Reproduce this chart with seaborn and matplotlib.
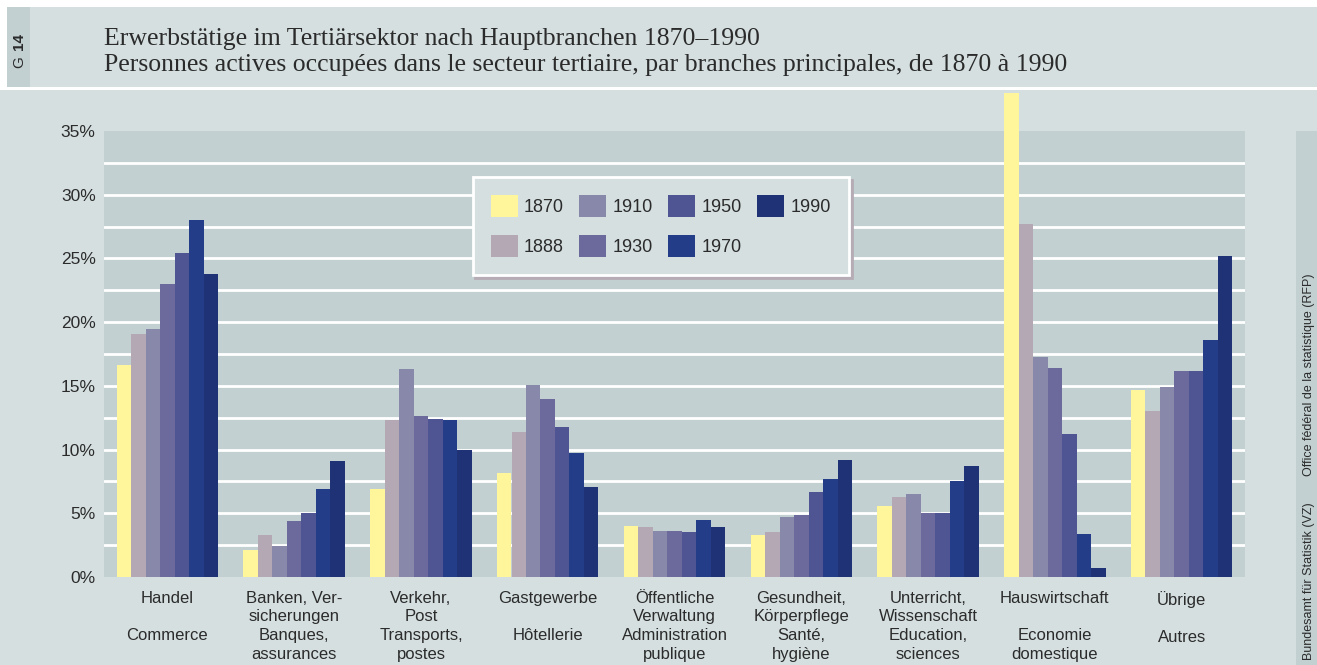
import numpy as np
import pandas as pd
import matplotlib
matplotlib.use("Agg")
import matplotlib.pyplot as plt
from matplotlib.patches import Rectangle
import seaborn as sns

# --- data (share of tertiary employment, %) ---
branches_de = ["Handel", "Banken, Ver-\nsicherungen", "Verkehr,\nPost", "Gastgewerbe",
               "Öffentliche\nVerwaltung", "Gesundheit,\nKörperpflege",
               "Unterricht,\nWissenschaft", "Hauswirtschaft", "Übrige"]
branches_fr = ["Commerce", "Banques,\nassurances", "Transports,\npostes", "Hôtellerie",
               "Administration\npublique", "Santé,\nhygiène", "Education,\nsciences",
               "Economie\ndomestique", "Autres"]
years = ["1870", "1888", "1910", "1930", "1950", "1970", "1990"]

v1870 = [16.6, 2.1, 6.9, 8.2, 4.0, 3.3, 5.6, 38.0, 14.7]
v1888 = [19.1, 3.3, 12.3, 11.4, 3.9, 3.5, 6.3, 27.7, 13.0]
v1910 = [19.5, 2.4, 16.3, 15.1, 3.6, 4.7, 6.5, 17.3, 14.9]
v1930 = [23.0, 4.4, 12.6, 14.0, 3.6, 4.9, 5.0, 16.4, 16.2]
v1950 = [25.4, 5.0, 12.4, 11.8, 3.5, 6.7, 5.0, 11.2, 16.2]
v1970 = [28.0, 6.9, 12.3, 9.7, 4.5, 7.7, 7.5, 3.4, 18.6]
v1990 = [23.8, 9.1, 10.0, 7.1, 3.9, 9.2, 8.7, 0.7, 25.2]

year_colors = ["#FFF59A", "#B4A8B5", "#8888AA", "#6C6A9C", "#4F5593", "#233D88", "#1F3276"]

# --- build long table ---
def make_label(de, fr):
    # German on lines 1-2, French on lines 3-4
    de_lines = de.split("\n")
    de_lines += [""] * (2 - len(de_lines))
    return "\n".join(de_lines) + "\n" + fr

labels = [make_label(d, f) for d, f in zip(branches_de, branches_fr)]
series = [v1870, v1888, v1910, v1930, v1950, v1970, v1990]
rows = []
for yr, vals in zip(years, series):
    for lab, v in zip(labels, vals):
        rows.append({"branch": lab, "year": yr, "value": v})
df = pd.DataFrame(rows)

# --- style ---
fig_bg = "#D5DFE0"
ax_bg = "#C2D0D1"
text_color = "#2B2B2B"
sns.set_theme(style="white")
plt.rcParams["font.family"] = ["Liberation Sans", "DejaVu Sans"]

fig = plt.figure(figsize=(13.17, 6.65), dpi=100)
fig.patch.set_facecolor(fig_bg)

W, H = 1317, 665
def fx(px):
    return px / W
def fy(py):
    return 1 - py / H

# header decorations
fig.patches.append(Rectangle((0, fy(7)), 1, 7 / H, transform=fig.transFigure,
                             facecolor="white", edgecolor="none", zorder=0))
fig.patches.append(Rectangle((0, fy(87)), fx(7), 80 / H, transform=fig.transFigure,
                             facecolor="white", edgecolor="none", zorder=0))
fig.patches.append(Rectangle((fx(7), fy(87)), fx(23), 80 / H, transform=fig.transFigure,
                             facecolor=ax_bg, edgecolor="none", zorder=0))
fig.patches.append(Rectangle((0, fy(90)), 1, 3 / H, transform=fig.transFigure,
                             facecolor="white", edgecolor="none", zorder=0))
# right source strip
fig.patches.append(Rectangle((fx(1296), 0), fx(21), fy(131), transform=fig.transFigure,
                             facecolor=ax_bg, edgecolor="none", zorder=0))

ax = fig.add_axes([fx(104), fy(577), fx(1245 - 104), (577 - 131) / H])
ax.set_facecolor(ax_bg)

sns.barplot(data=df, x="branch", y="value", hue="year", hue_order=years,
            palette=year_colors, saturation=1, width=0.8, linewidth=0,
            errorbar=None, ax=ax, zorder=3)

for bar in ax.patches:
    bar.set_clip_on(False)

# white gridlines every 2.5 %
for gy in np.arange(2.5, 35, 2.5):
    ax.axhline(gy, color="white", linewidth=2, zorder=1)

ax.set_ylim(0, 35)
ax.set_xlim(-0.5, len(labels) - 0.5)
ax.set_yticks(np.arange(0, 36, 5))
ax.set_yticklabels([f"{t}%" for t in range(0, 36, 5)])
ax.set_xlabel("")
ax.set_ylabel("")
for s in ax.spines.values():
    s.set_visible(False)
ax.tick_params(axis="y", length=0, pad=6, labelsize=12.5, labelcolor=text_color)
ax.tick_params(axis="x", length=0, pad=10, labelsize=12, labelcolor=text_color)
for t in ax.get_xticklabels():
    t.set_linespacing(1.3)
    t.set_verticalalignment("top")

sns.move_legend(ax, "upper left", bbox_to_anchor=(0.323, 0.897), ncol=4, title=None,
                frameon=True, fontsize=13, handlelength=1.5, handleheight=1.5,
                handletextpad=0.35, columnspacing=0.85, labelspacing=1.0,
                borderpad=1.0, borderaxespad=0, fancybox=False,
                shadow={"color": "#B5ACB6", "alpha": 1, "ox": 2, "oy": -2})
leg = ax.get_legend()
leg.get_frame().set_facecolor(fig_bg)
leg.get_frame().set_edgecolor("white")
leg.get_frame().set_linewidth(2)
leg.get_frame().set_alpha(1)
leg.set_zorder(10)
for t in leg.get_texts():
    t.set_color(text_color)

# titles
title_font = ["Liberation Serif", "DejaVu Serif"]
fig.text(fx(104), fy(45), "Erwerbstätige im Tertiärsektor nach Hauptbranchen 1870–1990",
         family=title_font, fontsize=18.5, color=text_color, va="baseline", ha="left")
fig.text(fx(104), fy(71),
         "Personnes actives occupées dans le secteur tertiaire, par branches principales, de 1870 à 1990",
         family=title_font, fontsize=18.5, color=text_color, va="baseline", ha="left")

# G 14 tag
fig.text(fx(19), fy(62), "G", rotation=90, fontsize=11, color=text_color,
         ha="center", va="center")
fig.text(fx(19), fy(41), "14", rotation=90, fontsize=11, fontweight="bold",
         color=text_color, ha="center", va="center")

# source notes
fig.text(fx(1309), fy(660), "Bundesamt für Statistik (VZ)", rotation=90, fontsize=9,
         color=text_color, ha="center", va="bottom")
fig.text(fx(1309), fy(476), "Office fédéral de la statistique (RFP)", rotation=90,
         fontsize=9, color=text_color, ha="center", va="bottom")

fig.savefig("out.png", dpi=100, facecolor=fig.get_facecolor())
